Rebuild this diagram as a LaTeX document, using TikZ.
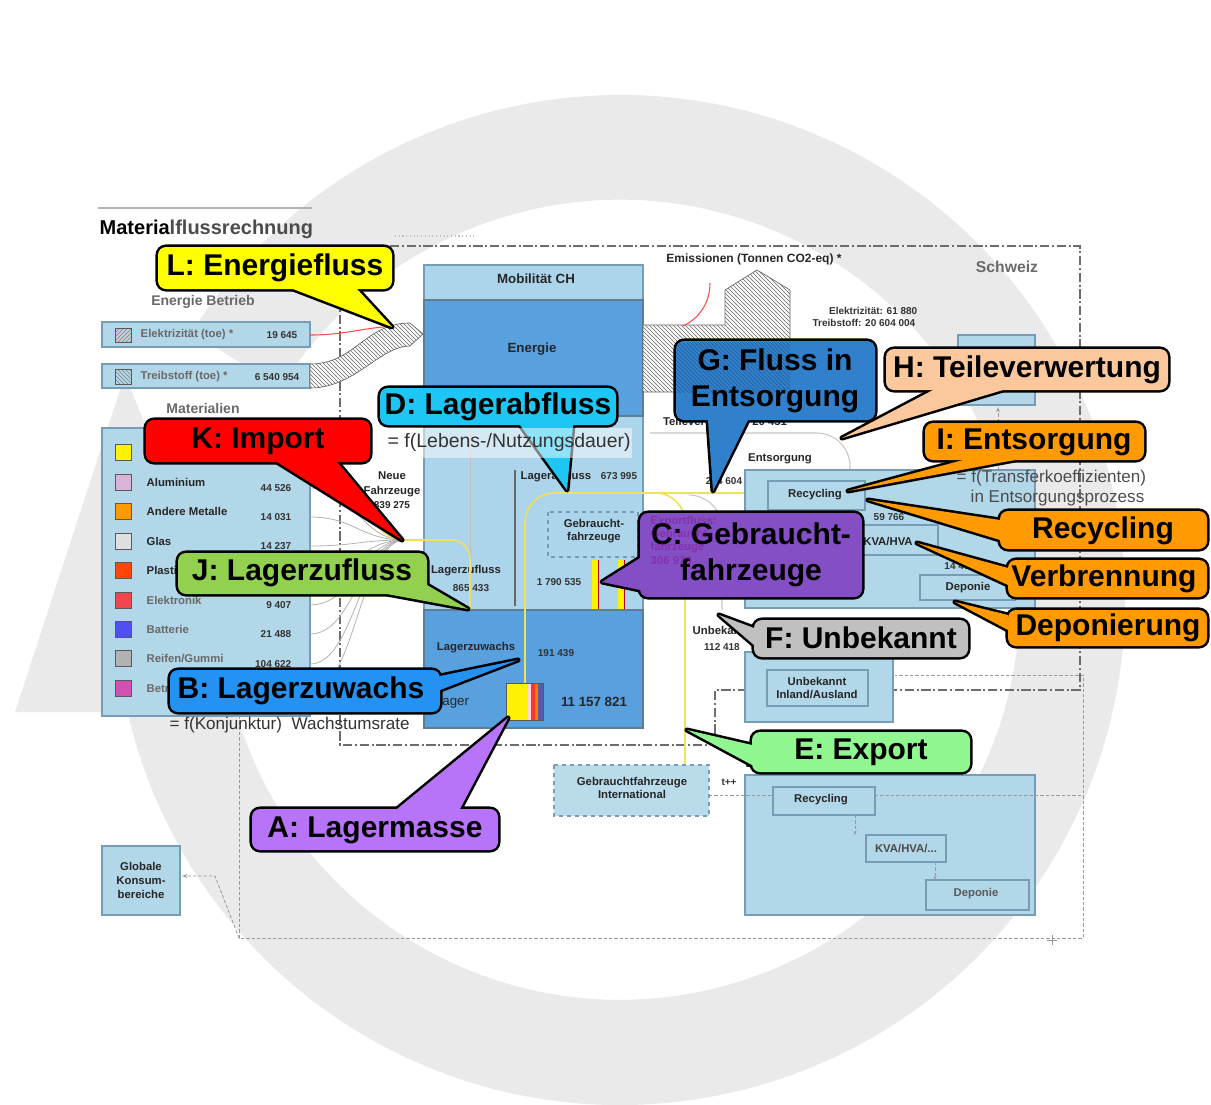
\documentclass[tikz,border=0pt]{standalone}
\usepackage{fontspec}
\setmainfont{Liberation Sans}
\usetikzlibrary{patterns,arrows.meta}

\definecolor{ringc}{RGB}{234,234,234}
\definecolor{boxblue}{RGB}{178,215,232}
\definecolor{boxline}{RGB}{118,156,182}
\definecolor{darkblue}{RGB}{88,160,222}
\definecolor{headblue}{RGB}{172,212,234}
\definecolor{txtgrey}{RGB}{105,105,105}
\definecolor{cL}{RGB}{255,255,0}
\definecolor{cD}{RGB}{30,198,244}
\definecolor{cK}{RGB}{255,0,0}
\definecolor{cJ}{RGB}{146,208,80}
\definecolor{cB}{RGB}{36,146,242}
\definecolor{cA}{RGB}{184,116,248}
\definecolor{cC}{RGB}{132,78,196}
\definecolor{cG}{RGB}{48,128,204}
\definecolor{cH}{RGB}{250,200,156}
\definecolor{cI}{RGB}{255,154,0}
\definecolor{cF}{RGB}{192,192,192}
\definecolor{cE}{RGB}{144,246,144}
\definecolor{yflowc}{RGB}{240,224,90}

\tikzset{
  box/.style={draw=boxline, fill=boxblue, line width=0.8},
  inbox/.style={draw=boxline, line width=0.8},
  dbox/.style={draw=boxline!80!black, fill=darkblue, line width=0.8},
  lbl/.style={font=\fontsize{8.5}{10}\selectfont\bfseries, text=black!85},
  glbl/.style={font=\fontsize{8.5}{10}\selectfont\bfseries, text=txtgrey},
  big/.style={font=\fontsize{10}{12}\selectfont\bfseries, text=black!85},
  num/.style={font=\fontsize{7.5}{9}\selectfont\bfseries, text=black!80},
  note/.style={font=\fontsize{12.8}{15}\selectfont, text=black!80, anchor=west},
  swatch/.style={draw=gray!70!black, line width=0.6},
  flowline/.style={draw=gray!60, line width=0.6},
  yflow/.style={draw=yflowc, line width=1.2},
  faint/.style={draw=gray!45, line width=0.8},
  schweiz/.style={draw=gray!85!black, line width=1.3, dash pattern=on 7pt off 2pt on 1.5pt off 2pt},
  outer/.style={draw=gray!80, line width=0.6, dash pattern=on 2.5pt off 1.5pt},
  hatch/.style={preaction={fill=white}, pattern=north west lines, pattern color=gray!80!black, draw=gray!80!black, line width=0.5},
  cbord/.style={draw=black, line width=3.8, line join=round},
  ctext/.style={font=\fontsize{22.5}{27}\selectfont\bfseries, align=center, text=black}
}

\begin{document}
\begin{tikzpicture}[x=0.75pt,y=0.75pt,yscale=-1,xscale=1]
\useasboundingbox (0,0) rectangle (1211,1104);

%Shape: Ring arrow (background)
\fill[ringc] (620,600) ++(212:505) arc[start angle=212,end angle=527.2,radius=505] -- (236,712) arc[start angle=523.7,end angle=212,radius=400] -- cycle;
\fill[ringc] (15,712) -- (125,375) -- (262,712) -- cycle;

%Title
\draw[gray!60, line width=0.8] (98,208) -- (312,208);
\node[anchor=west, font=\fontsize{15}{18}\selectfont\bfseries] (title) at (95,229) {Materia\textcolor{black!70}{lflussrechnung}};
\draw[gray!50, dotted, line width=0.8] (395,236) -- (475,236);

%Frames
\draw[outer] (239,716) -- (239,938) -- (1083,938) -- (1083,675) -- (895,675);
\draw[gray!80, line width=0.6] (1047,940) -- (1057,940) (1052,935) -- (1052,945);
\draw[schweiz] (340,246) -- (1080,246) -- (1080,690) -- (715,690) -- (715,745) -- (340,745) -- cycle;
\node[font=\fontsize{11.8}{14}\selectfont\bfseries, text=txtgrey] (schweiz) at (1007,267) {Schweiz};

%Energie Betrieb
\node[glbl, font=\fontsize{10.5}{12}\selectfont\bfseries] (enbet) at (203,302) {Energie Betrieb};
\draw[box] (102,322) rectangle (310,347);
\draw[swatch, pattern=north east lines, pattern color=red!70] (115,328) rectangle (131,342);
\node[glbl, anchor=west] (elek) at (136,335) {Elektrizität (toe) *};
\node[num, anchor=east] (elekn) at (302,335) {19 645};
\draw[box] (102,364) rectangle (310,388);
\draw[swatch, pattern=north west lines, pattern color=gray] (115,369) rectangle (131,384);
\node[glbl, anchor=west] (treib) at (136,377) {Treibstoff (toe) *};
\node[num, anchor=east] (treibn) at (304,377) {6 540 954};

%Energy band into Mobilitaet
\draw[red!70, line width=0.8] (310,335) .. controls (350,335) and (365,326) .. (405,326);
\draw[hatch] (310,364) .. controls (355,364) and (365,323) .. (410,323) -- (423,334) -- (410,346) .. controls (380,346) and (355,388) .. (310,388) -- cycle;

%Materialien legend
\node[glbl, font=\fontsize{10.5}{12}\selectfont\bfseries] (mat) at (203,408) {Materialien};
\draw[box] (102,428) rectangle (310,716);
\foreach \y in {488,517,546,575,605,634,664,692}
  \draw[flowline] (310,\y) .. controls (355,\y) and (360,540) .. (405,540);
\draw[swatch, fill=yellow] (115,444) rectangle (131,460);
\draw[swatch, fill={rgb,255:red,216;green,180;blue,216}] (115,474) rectangle (131,490);
\node[lbl, anchor=west] (alu) at (142,482) {Aluminium};
\node[num, anchor=east] (alun) at (296,488) {44 526};
\draw[swatch, fill={rgb,255:red,255;green,154;blue,0}] (115,503) rectangle (131,519);
\node[lbl, anchor=west] (amet) at (142,511) {Andere Metalle};
\node[num, anchor=east] (ametn) at (296,517) {14 031};
\draw[swatch, fill=gray!25] (115,533) rectangle (131,549);
\node[lbl, anchor=west] (glas) at (142,541) {Glas};
\node[num, anchor=east] (glasn) at (296,546) {14 237};
\draw[swatch, fill={rgb,255:red,255;green,70;blue,10}] (115,562) rectangle (131,578);
\node[lbl, anchor=west] (plast) at (142,570) {Plastik};
\draw[swatch, fill={rgb,255:red,240;green,70;blue,80}] (115,592) rectangle (131,608);
\node[glbl, anchor=west] (elektr) at (142,600) {Elektronik};
\node[num, anchor=east] (elektrn) at (296,605) {9 407};
\draw[swatch, fill={rgb,255:red,80;green,80;blue,240}] (115,621) rectangle (131,637);
\node[glbl, anchor=west] (batt) at (142,629) {Batterie};
\node[num, anchor=east] (battn) at (296,634) {21 488};
\draw[swatch, fill=gray!60] (115,650) rectangle (131,666);
\node[glbl, anchor=west] (reif) at (142,658) {Reifen/Gummi};
\node[num, anchor=east] (reifn) at (296,664) {104 622};
\draw[swatch, fill={rgb,255:red,210;green,80;blue,176}] (115,680) rectangle (131,696);
\node[glbl, anchor=west] (betr) at (142,688) {Betriebsstoffe};

%Globale Konsumbereiche
\draw[box] (102,846) rectangle (180,915);
\node[lbl, align=center, font=\fontsize{8.5}{10.5}\selectfont\bfseries] (glob) at (141,880) {Globale\\Konsum-\\bereiche};
\draw[outer, -{Stealth[length=4pt,open]}] (239,938) -- (215,876) -- (182,876);

%Mobilitaet CH
\draw[box, fill=headblue] (424,265) rectangle (643,728);
\node[big] (mob) at (536,279) {Mobilität CH};
\draw[dbox] (424,300) rectangle (643,416);
\node[big] (energie) at (532,349) {Energie};
\draw[gray!50, line width=0.6] (470,426) -- (470,610);
\draw[gray!80!black, line width=0.8] (515,470) -- (515,606);
\node[lbl, align=center, font=\fontsize{8.5}{11.5}\selectfont\bfseries] (neue) at (392,490) {Neue\\Fahrzeuge\\[-1pt]{\fontsize{7.5}{9}\selectfont 839 275}};
\node[lbl] (lzu) at (466,571) {Lagerzufluss};
\node[num] (lzun) at (471,588) {865 433};
\node[lbl] (lab) at (556,477) {Lagerabfluss};
\node[num] (labn) at (619,476) {673 995};
\draw[inbox, dashed] (548,512) rectangle (638,557);
\node[lbl, align=center] (gfz) at (594,531) {Gebraucht-\\fahrzeuge};
\node[num] (gfzn) at (559,582) {1 790 535};
\fill[yellow] (592,560) rectangle (598,610);
\draw[red!70!black, line width=0.6] (598,560) -- (598,610);
\fill[yellow] (618,560) rectangle (624,610);
\draw[red!70!black, line width=0.6] (624,560) -- (624,610);
\draw[dbox] (424,610) rectangle (643,728);
\node[lbl] (lzw) at (476,648) {Lagerzuwachs};
\node[num] (lzwn) at (556,653) {191 439};
\node[big, font=\fontsize{10}{12}\selectfont] (lager) at (452,702) {Lager};
\node[big] (lagern) at (594,702) {11 157 821};

%Flows (yellow)
\draw[yflow] (310,455) .. controls (360,455) and (360,540) .. (405,540);
\draw[yflow, rounded corners=14] (405,540) -- (470,540) -- (470,610);
\draw[yflow, rounded corners=22] (525,683) -- (525,493) -- (768,493);
\draw[yflow, rounded corners=22] (650,493) -- (685,493) -- (685,765);

%Lager stack
\fill[yellow] (506,683) rectangle (528,720);
\fill[pink!60] (528,683) rectangle (531,720);
\fill[red!80] (531,683) rectangle (535,720);
\fill[orange] (535,683) rectangle (538,720);
\fill[blue!30!gray] (538,683) rectangle (543,720);
\draw[gray!70!black, line width=0.5] (506,683) rectangle (543,720);

%Emissionen
\node[lbl, font=\fontsize{9}{11}\selectfont\bfseries] (emis) at (754,259) {Emissionen (Tonnen CO2-eq) *};
\draw[hatch] (643,325) -- (725,325) -- (725,290) -- (757,270) -- (790,290) -- (790,392) -- (643,392) -- cycle;
\draw[red!70, line width=0.8] (683,326) .. controls (700,318) and (710,302) .. (710,283);
\node[num, anchor=east] (emel) at (922,311) {Elektrizität: 61 880};
\node[num, anchor=east] (emtr) at (920,323) {Treibstoff: 20 604 004};
\draw[box] (958,335) rectangle (1035,405);
\draw[outer, -{Stealth[length=4pt,open]}] (998,470) -- (998,407);

%Entsorgung
\node[lbl] (teil) at (725,423) {Teileverwertung 20 431};
\draw[faint, rounded corners=25] (650,433) -- (850,433) -- (850,470);
\draw[faint, rounded corners=25] (690,495) -- (722,495) -- (722,610);
\node[lbl] (ents) at (780,459) {Entsorgung};
\node[num] (entsn) at (724,481) {254 604};
\draw[box] (745,470) rectangle (1035,608);
\draw[inbox] (768,481) rectangle (865,510);
\node[lbl] (rec) at (815,495) {Recycling};
\node[num] (recn) at (889,517) {59 766};
\draw[inbox] (838,525) rectangle (938,555);
\node[lbl] (kva) at (888,541) {KVA/HVA};
\node[num] (kvan) at (957,566) {14 47};
\draw[inbox] (920,575) rectangle (1015,600);
\node[lbl] (dep) at (968,588) {Deponie};

%Unbekannt
\node[lbl] (unb) at (722,630) {Unbekannt};
\node[num] (unbn) at (722,647) {112 418};
\draw[box] (745,652) rectangle (893,722);
\draw[inbox] (767,670) rectangle (868,706);
\node[lbl, align=center] (unbia) at (817,688) {Unbekannt\\Inland/Ausland};

%Export
\node[lbl, anchor=west] (exp) at (741,765) {Export};
\draw[box] (745,775) rectangle (1035,915);
\draw[box, dashed, fill=boxblue!90!white] (554,765) rectangle (709,816);
\node[lbl, align=center] (gfi) at (632,788) {Gebrauchtfahrzeuge\\International};
\node[num] (tpp) at (729,782) {t++};
\draw[outer] (709,795) -- (773,795) (875,795) -- (1083,795);
\draw[inbox] (773,787) rectangle (875,815);
\node[lbl] (rec2) at (821,800) {Recycling};
\draw[inbox] (866,835) rectangle (946,862);
\node[glbl, text=black!70] (kva2) at (906,848) {KVA/HVA/...};
\draw[inbox] (926,880) rectangle (1029,910);
\node[glbl, text=black!65] (dep2) at (976,894) {Deponie};
\draw[outer, -{Stealth[length=3pt,open]}] (855,815) -- (855,835);
\draw[outer, -{Stealth[length=3pt,open]}] (935,862) -- (935,880);

%Pointer tips
\coordinate (tipL) at (392,327);
\coordinate (tipD) at (567,490);
\coordinate (tipK) at (402,540);
\coordinate (tipJ) at (468,609);
\coordinate (tipB) at (518,660);
\coordinate (tipA) at (508,718);
\coordinate (tipC) at (602,582);
\coordinate (tipG) at (713,491);
\coordinate (tipH) at (842,438);
\coordinate (tipI) at (848,491);
\coordinate (tipR) at (868,500);
\coordinate (tipV) at (917,543);
\coordinate (tipP) at (955,602);
\coordinate (tipF) at (719,615);
\coordinate (tipE) at (687,730);

%Callout L
\draw[cbord, rounded corners=6] (158,247) rectangle (392,289);
\draw[cbord] (293,289) -- (tipL) -- (357,289);
\fill[cL, rounded corners=6] (158,247) rectangle (392,289);
\fill[cL] (293,289) -- (tipL) -- (357,289) -- cycle;
\node[ctext] (calL) at (275,268) {L: Energiefluss};

%Callout D
\draw[cbord, rounded corners=6] (380,388) rectangle (616,425);
\draw[cbord] (520,425) -- (tipD) -- (573,425);
\fill[cD, rounded corners=6] (380,388) rectangle (616,425);
\fill[cD] (520,425) -- (tipD) -- (573,425) -- cycle;
\node[ctext] (calD) at (498,407) {D: Lagerabfluss};
\fill[white, opacity=0.5] (385,428) rectangle (632,458);
\node[note, font=\fontsize{14.6}{17}\selectfont] (fD) at (383,442) {= f(Lebens-/Nutzungsdauer)};

%Callout K
\draw[cbord, rounded corners=6] (146,420) rectangle (370,462);
\draw[cbord] (277,462) -- (tipK) -- (337,462);
\fill[cK, rounded corners=6] (146,420) rectangle (370,462);
\fill[cK] (277,462) -- (tipK) -- (337,462) -- cycle;
\node[ctext] (calK) at (258,441) {K: Import};

%Callout J
\draw[cbord, rounded corners=6] (178,553) rectangle (427,594);
\draw[cbord] (387,594) -- (tipJ) -- (427,585);
\fill[cJ, rounded corners=6] (178,553) rectangle (427,594);
\fill[cJ] (387,594) -- (tipJ) -- (427,585) -- cycle;
\node[ctext] (calJ) at (302,573) {J: Lagerzufluss};

%Callout B
\draw[cbord, rounded corners=6] (170,670) rectangle (440,712);
\draw[cbord] (440,676) -- (tipB) -- (440,690);
\fill[cB, rounded corners=6] (170,670) rectangle (440,712);
\fill[cB] (440,676) -- (tipB) -- (440,690) -- cycle;
\node[ctext] (calB) at (301,691) {B: Lagerzuwachs};
\node[note] (fB) at (165,725) {= f(Konjunktur)\ \ Wachstumsrate};

%Callout A
\draw[cbord, rounded corners=6] (252,809) rectangle (498,850);
\draw[cbord] (397,809) -- (tipA) -- (460,809);
\fill[cA, rounded corners=6] (252,809) rectangle (498,850);
\fill[cA] (397,809) -- (tipA) -- (460,809) -- cycle;
\node[ctext] (calA) at (375,830) {A: Lagermasse};

%Callout C
\draw[cbord, rounded corners=6] (640,513) rectangle (862,597);
\draw[cbord] (640,558) -- (tipC) -- (640,590);
\fill[cC, rounded corners=6] (640,513) rectangle (862,597);
\fill[cC] (640,558) -- (tipC) -- (640,590) -- cycle;
\node[ctext] (calC) at (751,555) {C: Gebraucht-\\fahrzeuge};
\node[glbl, text=violet, opacity=0.35, anchor=west, align=left] (expf) at (646,540) {Exportfluss:\\Gebraucht-\\fahrzeuge\\306 973};

%Callout G
\draw[cbord, rounded corners=6] (676,341) rectangle (875,420);
\draw[cbord] (708,420) -- (tipG) -- (748,420);
\fill[cG, rounded corners=6] (676,341) rectangle (875,420);
\fill[cG] (708,420) -- (tipG) -- (748,420) -- cycle;
\fill[pattern=north west lines, pattern color=black, opacity=0.25] (676,343) rectangle (790,392);
\node[ctext] (calG) at (775,381) {G: Fluss in\\Entsorgung};

%Callout H
\draw[cbord, rounded corners=6] (886,349) rectangle (1168,390);
\draw[cbord] (933,390) -- (tipH) -- (1003,390);
\fill[cH, rounded corners=6] (886,349) rectangle (1168,390);
\fill[cH] (933,390) -- (tipH) -- (1003,390) -- cycle;
\node[ctext] (calH) at (1027,370) {H: Teileverwertung};

%Callout I
\draw[cbord, rounded corners=6] (925,423) rectangle (1144,460);
\draw[cbord] (963,460) -- (tipI) -- (1015,460);
\fill[cI, rounded corners=6] (925,423) rectangle (1144,460);
\fill[cI] (963,460) -- (tipI) -- (1015,460) -- cycle;
\node[ctext] (calI) at (1034,442) {I: Entsorgung};
\node[note, text=black!70] (fI) at (952,478) {= f(Transferkoeffizienten)};
\node[note, text=black!70] (fI2) at (966,498) {in Entsorgungsprozess};

%Callout Recycling
\draw[cbord, rounded corners=6] (1000,511) rectangle (1207,549);
\draw[cbord] (1000,520) -- (tipR) -- (1000,540);
\fill[cI, rounded corners=6] (1000,511) rectangle (1207,549);
\fill[cI] (1000,520) -- (tipR) -- (1000,540) -- cycle;
\node[ctext] (calR) at (1103,531) {Recycling};

%Callout Verbrennung
\draw[cbord, rounded corners=6] (1008,560) rectangle (1207,597);
\draw[cbord] (1008,568) -- (tipV) -- (1008,585);
\fill[cI, rounded corners=6] (1008,560) rectangle (1207,597);
\fill[cI] (1008,568) -- (tipV) -- (1008,585) -- cycle;
\node[ctext] (calV) at (1104,579) {Verbrennung};

%Callout Deponierung
\draw[cbord, rounded corners=6] (1008,610) rectangle (1207,646);
\draw[cbord] (1008,615) -- (tipP) -- (1008,630);
\fill[cI, rounded corners=6] (1008,610) rectangle (1207,646);
\fill[cI] (1008,615) -- (tipP) -- (1008,630) -- cycle;
\node[ctext] (calP) at (1108,628) {Deponierung};

%Callout F
\draw[cbord, rounded corners=6] (754,620) rectangle (968,657);
\draw[cbord] (754,628) -- (tipF) -- (754,645);
\fill[cF, rounded corners=6] (754,620) rectangle (968,657);
\fill[cF] (754,628) -- (tipF) -- (754,645) -- cycle;
\node[ctext] (calF) at (861,638) {F: Unbekannt};

%Callout E
\draw[cbord, rounded corners=6] (752,732) rectangle (970,772);
\draw[cbord] (752,745) -- (tipE) -- (752,765);
\fill[cE, rounded corners=6] (752,732) rectangle (970,772);
\fill[cE] (752,745) -- (tipE) -- (752,765) -- cycle;
\node[ctext] (calE) at (861,752) {E: Export};

\end{tikzpicture}
\end{document}
